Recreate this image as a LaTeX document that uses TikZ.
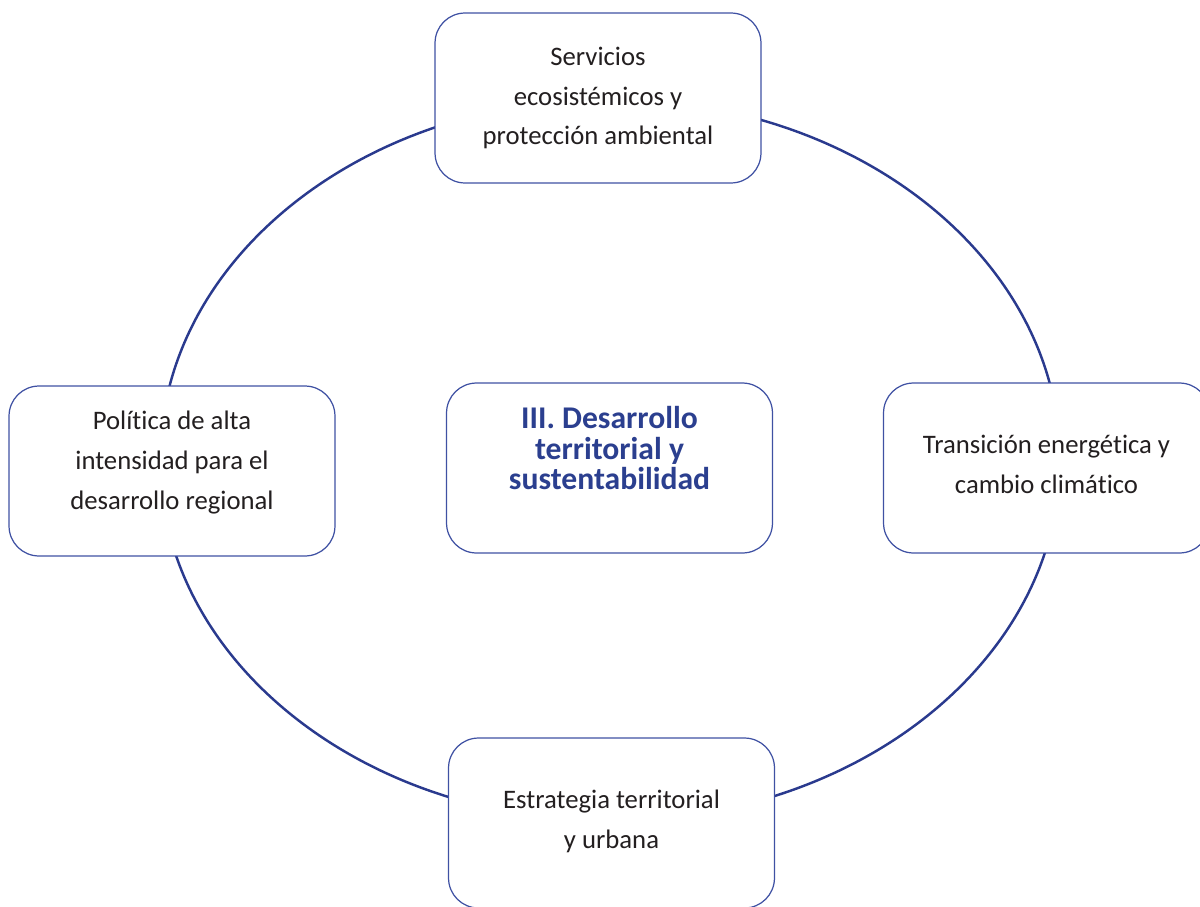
\documentclass[tikz,border=0pt]{standalone}
\usepackage{fontspec}
\setmainfont{Carlito}[Ligatures=NoCommon]
\definecolor{ringblue}{HTML}{2A3A8E}
\definecolor{lineblue}{HTML}{3F51A3}
\definecolor{inkgray}{HTML}{231F20}
\definecolor{titleblue}{HTML}{2B3F8F}
\begin{document}
\begin{tikzpicture}[x=0.02cm,y=-0.02cm,
  eje/.style={draw=lineblue, line width=0.7pt, fill=white, rounded corners=0.6cm,
    minimum width=6.52cm, minimum height=3.4cm, align=center, text=inkgray,
    font=\fontsize{15.2}{22.7}\selectfont},
  nucleo/.style={eje, text=titleblue, font=\fontsize{18}{17.4}\selectfont\bfseries}]
\clip (0,0) rectangle (1200,906);
\draw[ringblue, line width=1.4pt] (610,460) ellipse [x radius=9cm, y radius=7.22cm];
\node[eje] (servicios) at (598,98) {Servicios\\ ecosistémicos y\\ protección ambiental};
\node[eje] (politica) at (172,471) {Política de alta\\ intensidad para el\\ desarrollo regional\\[-10pt]\mbox{}};
\node[nucleo] (desarrollo) at (609.5,468) {III. Desarrollo\\ territorial y\\ sustentabilidad\\[5pt]\mbox{}};
\node[eje] (transicion) at (1046.5,468) {Transición energética y\\ cambio climático\\[-18pt]\mbox{}};
\node[eje] (estrategia) at (611.5,823) {Estrategia territorial\\ y urbana\\[-18pt]\mbox{}};
\end{tikzpicture}
\end{document}
